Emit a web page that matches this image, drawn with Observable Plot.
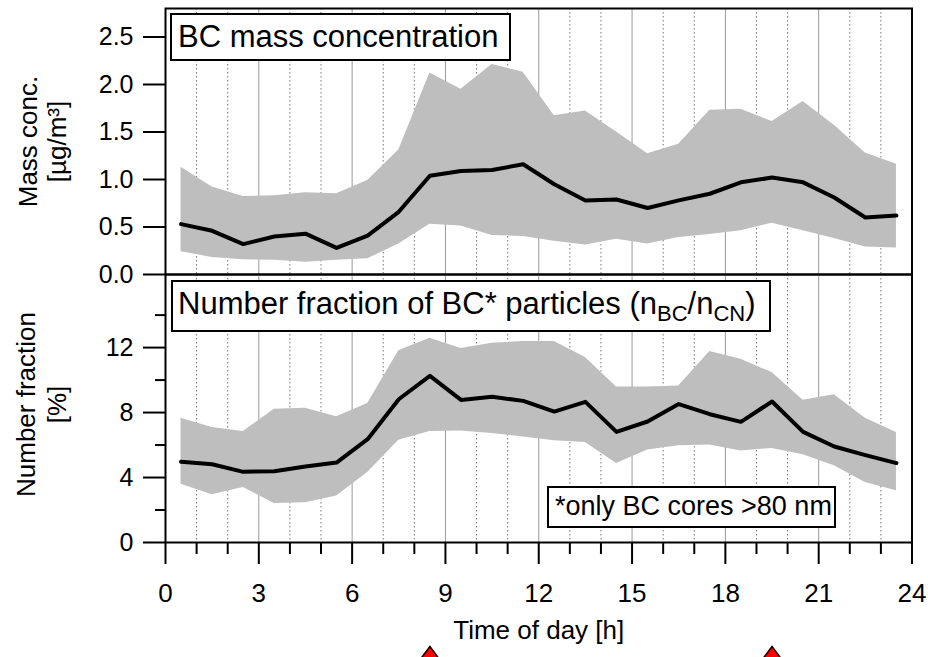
<!DOCTYPE html>
<html><head><meta charset="utf-8">
<script src="https://cdn.jsdelivr.net/npm/d3@7"></script>
<script src="https://cdn.jsdelivr.net/npm/@observablehq/plot@0.6"></script>
<style>
body{margin:0;background:#fff;}
#wrap{position:relative;width:928px;height:657px;overflow:hidden;font-family:"Liberation Sans",Arial,sans-serif;background:#fff;}
#wrap svg{position:absolute;left:0;overflow:visible;}
.box{position:absolute;background:#fff;border:2px solid #000;box-sizing:border-box;white-space:nowrap;color:#000;font-family:"Liberation Sans",Arial,sans-serif;}
</style></head><body><div id="wrap"></div>
<script>
// Hour-of-day bins (centres)
const hours = [0.5,1.5,2.5,3.5,4.5,5.5,6.5,7.5,8.5,9.5,10.5,11.5,12.5,13.5,14.5,15.5,16.5,17.5,18.5,19.5,20.5,21.5,22.5,23.5];
// BC mass concentration [µg/m³]
const massMean = [0.53,0.46,0.32,0.40,0.43,0.28,0.41,0.66,1.04,1.09,1.10,1.16,0.95,0.78,0.79,0.70,0.78,0.85,0.97,1.02,0.97,0.81,0.60,0.62];
const massHigh = [1.13,0.92,0.82,0.83,0.86,0.85,0.99,1.31,2.12,1.95,2.21,2.13,1.67,1.72,1.50,1.27,1.37,1.73,1.74,1.61,1.82,1.57,1.28,1.16];
const massLow  = [0.24,0.18,0.155,0.15,0.13,0.15,0.165,0.32,0.53,0.51,0.41,0.40,0.35,0.31,0.37,0.32,0.39,0.42,0.46,0.54,0.46,0.38,0.29,0.28];
// Number fraction of BC* particles [%]
const fracMean = [4.97,4.82,4.35,4.39,4.68,4.92,6.36,8.82,10.26,8.78,8.97,8.72,8.06,8.66,6.81,7.45,8.52,7.90,7.43,8.68,6.81,5.91,5.38,4.89];
const fracHigh = [7.65,7.08,6.83,8.21,8.27,7.74,8.56,11.8,12.58,11.94,12.27,12.37,12.37,11.39,9.58,9.58,9.64,11.76,11.28,10.46,8.76,9.09,7.65,6.77];
const fracLow  = [3.59,2.94,3.39,2.40,2.44,2.87,4.31,6.30,6.83,6.87,6.71,6.50,6.26,6.15,4.86,5.70,5.95,6.01,5.64,5.79,5.40,4.72,3.69,3.18];
// Ticks
const xMajorTicks = [0,3,6,9,12,15,18,21,24];
const xMinorTicks = [1,2,4,5,7,8,10,11,13,14,16,17,19,20,22,23];
const gridMajor = [3,6,9,12,15,18,21];
const massTicks = [0,0.5,1.0,1.5,2.0,2.5];
const fracTicks = [0,4,8,12];
const fracMinorTicks = [2,6,10,14];
// Marked hours (red triangles)
const markerHours = [8.5,19.5];

const massData = hours.map((h,i)=>({h, m:massMean[i], hi:massHigh[i], lo:massLow[i]}));
const fracData = hours.map((h,i)=>({h, m:fracMean[i], hi:fracHigh[i], lo:fracLow[i]}));

const FONT = "Liberation Sans, Arial, sans-serif";
const BAND = "#bebebe";

function gridMarks(){
  return [
    Plot.ruleX(xMinorTicks, {stroke:"#777", strokeWidth:1, strokeDasharray:"1.5,2.5"}),
    Plot.ruleX(gridMajor, {stroke:"#999", strokeWidth:1})
  ];
}

const topPlot = Plot.plot({
  width:928, height:274,
  marginLeft:165, marginRight:16.5, marginTop:8, marginBottom:0,
  style:{fontFamily:FONT, background:"transparent", overflow:"visible", color:"#000"},
  x:{domain:[0,24], axis:null},
  y:{domain:[0,2.8], label:null},
  marks:[
    ...gridMarks(),
    Plot.areaY(massData, {x:"h", y1:"lo", y2:"hi", fill:BAND}),
    Plot.lineY(massData, {x:"h", y:"m", stroke:"#000", strokeWidth:4, strokeLinejoin:"round"}),
    Plot.axisY(massTicks, {anchor:"left", tickSize:22, tickPadding:10, strokeWidth:2, fontSize:25, tickFormat:d3.format(".1f"), label:null}),
    Plot.frame({stroke:"#000", strokeWidth:2}),
    Plot.text(["Mass conc."], {frameAnchor:"left", textAnchor:"middle", rotate:-90, dx:-137, fontSize:26}),
    Plot.text(["[µg/m³]"], {frameAnchor:"left", textAnchor:"middle", rotate:-90, dx:-108, fontSize:26})
  ]
});
topPlot.style.top = "0px";

const bottomPlot = Plot.plot({
  width:928, height:383,
  marginLeft:165, marginRight:16.5, marginTop:0, marginBottom:115,
  style:{fontFamily:FONT, background:"transparent", overflow:"visible", color:"#000"},
  x:{domain:[0,24], label:null},
  y:{domain:[0,16.5], label:null},
  marks:[
    ...gridMarks(),
    Plot.areaY(fracData, {x:"h", y1:"lo", y2:"hi", fill:BAND}),
    Plot.lineY(fracData, {x:"h", y:"m", stroke:"#000", strokeWidth:4, strokeLinejoin:"round"}),
    Plot.axisY(fracTicks, {anchor:"left", tickSize:22, tickPadding:10, strokeWidth:2, fontSize:25, label:null}),
    Plot.axisY(fracMinorTicks, {anchor:"left", tickSize:10, strokeWidth:2, tickFormat:()=>"", label:null}),
    Plot.axisX(xMajorTicks, {anchor:"bottom", tickSize:22, tickPadding:19, strokeWidth:2, fontSize:26, label:null}),
    Plot.axisX(xMinorTicks, {anchor:"bottom", tickSize:12, strokeWidth:2, tickFormat:()=>"", label:null}),
    Plot.frame({stroke:"#000", strokeWidth:2}),
    Plot.text(["Number fraction"], {frameAnchor:"left", textAnchor:"middle", rotate:-90, dx:-139, dy:-4, fontSize:26}),
    Plot.text(["[%]"], {frameAnchor:"left", textAnchor:"middle", rotate:-90, dx:-108, dy:-4, fontSize:26}),
    Plot.text(["Time of day [h]"], {frameAnchor:"bottom", dy:96, fontSize:26}),
    Plot.dot(markerHours, {
      x:d=>d, y:()=>0, dy:115,
      symbol:{draw(ctx, size){ const s = Math.sqrt(size/Math.PI); ctx.moveTo(0,-s); ctx.lineTo(1.5*s,s); ctx.lineTo(-1.5*s,s); ctx.closePath(); }},
      r:11, fill:"#ff0000", stroke:"#000", strokeWidth:1.5
    })
  ]
});
bottomPlot.style.top = "274px";

const wrap = document.getElementById("wrap");
wrap.appendChild(topPlot);
wrap.appendChild(bottomPlot);

function addBox(html, css){
  const d = document.createElement("div");
  d.className = "box";
  Object.assign(d.style, css);
  d.innerHTML = html;
  wrap.appendChild(d);
}
addBox("BC mass concentration", {left:"170px", top:"13px", width:"341px", height:"48px", paddingLeft:"6px", fontSize:"31px", lineHeight:"44px"});
addBox('Number fraction of BC* particles (n<span style="font-size:22px;position:relative;top:7px">BC</span>/n<span style="font-size:22px;position:relative;top:7px">CN</span>)',
  {left:"171px", top:"280px", width:"600px", height:"52px", paddingLeft:"5px", fontSize:"31px", lineHeight:"44px"});
addBox("*only BC cores &gt;80 nm", {left:"547px", top:"486px", width:"289px", height:"42px", paddingLeft:"6px", fontSize:"27px", lineHeight:"37px"});
</script>
</body></html>
